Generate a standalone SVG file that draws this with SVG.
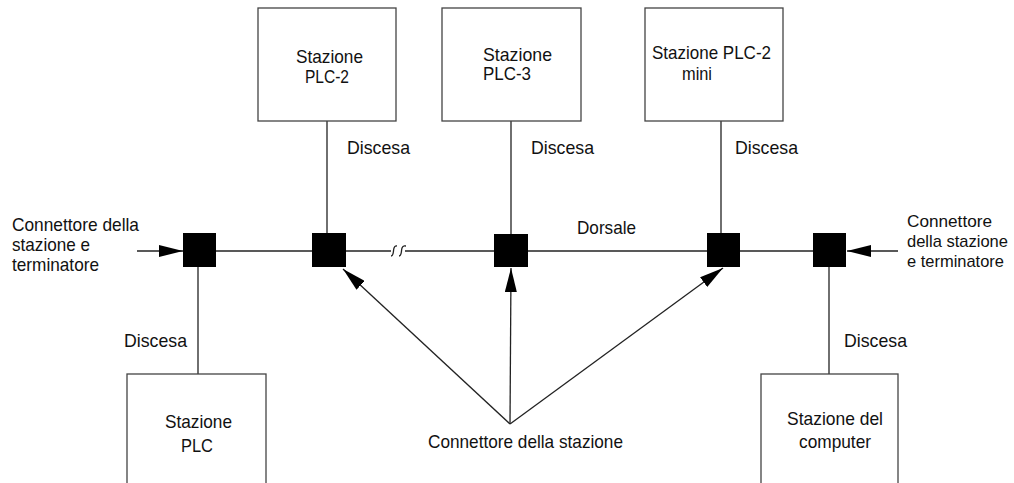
<svg xmlns="http://www.w3.org/2000/svg" width="1014" height="483" viewBox="0 0 1014 483">
<style>
  text { font-family: "Liberation Sans", Arial, sans-serif; font-size: 19px; fill: #111; }
  .r { font-size: 17px; }
  .box { fill: #fff; stroke: #444; stroke-width: 1.3; }
  .ln { stroke: #222; stroke-width: 1.3; fill: none; }
  .sq { fill: #000; }
</style>
<defs>
  <marker id="ah" viewBox="0 0 24 12" refX="24" refY="6" markerWidth="24" markerHeight="12" markerUnits="userSpaceOnUse" orient="auto">
    <path d="M0,0 L24,6 L0,12 Z" fill="#000"/>
  </marker>
</defs>
<rect width="1014" height="483" fill="#fff"/>

<g id="connectors">
  <line class="ln" x1="327" y1="121" x2="327" y2="234"/>
  <line class="ln" x1="511" y1="121" x2="511" y2="234"/>
  <line class="ln" x1="721" y1="121" x2="721" y2="234"/>
  <line class="ln" x1="198" y1="267" x2="198" y2="374"/>
  <line class="ln" x1="829" y1="267" x2="829" y2="374"/>
  <line class="ln" x1="216" y1="251" x2="312" y2="251"/>
  <line class="ln" x1="346" y1="251" x2="391" y2="251"/>
  <path class="ln" d="M391,256 C394,256 393,251 394,248 C395,245 396,246 397,246"/>
  <path class="ln" d="M399,256 C402,256 401,251 402,248 C403,245 404,246 406,246"/>
  <line class="ln" x1="405" y1="251" x2="494" y2="251"/>
  <line class="ln" x1="528" y1="251" x2="707" y2="251"/>
  <line class="ln" x1="740" y1="251" x2="813" y2="251"/>
  <line class="ln" x1="137" y1="251" x2="183" y2="251" marker-end="url(#ah)"/>
  <line class="ln" x1="898" y1="251" x2="847" y2="251" marker-end="url(#ah)"/>
  <line class="ln" x1="510" y1="424" x2="343" y2="269" marker-end="url(#ah)"/>
  <line class="ln" x1="510" y1="424" x2="511" y2="268" marker-end="url(#ah)"/>
  <line class="ln" x1="510" y1="424" x2="723" y2="268" marker-end="url(#ah)"/>
</g>

<g id="node-plc2">
  <rect class="box" x="258" y="8" width="138" height="113"/>
  <text x="296" y="63" textLength="67" lengthAdjust="spacingAndGlyphs">Stazione</text>
  <text x="305" y="83" textLength="44" lengthAdjust="spacingAndGlyphs">PLC-2</text>
</g>
<g id="node-plc3">
  <rect class="box" x="442" y="8" width="139" height="113"/>
  <text x="483" y="61" textLength="69" lengthAdjust="spacingAndGlyphs">Stazione</text>
  <text x="483" y="80" textLength="48" lengthAdjust="spacingAndGlyphs">PLC-3</text>
</g>
<g id="node-plc2mini">
  <rect class="box" x="645" y="8" width="138" height="113"/>
  <text x="652" y="59" textLength="119" lengthAdjust="spacingAndGlyphs">Stazione PLC-2</text>
  <text x="682" y="80" textLength="30" lengthAdjust="spacingAndGlyphs">mini</text>
</g>
<g id="node-plc">
  <rect class="box" x="127" y="374" width="139" height="120"/>
  <text x="165" y="428" textLength="67" lengthAdjust="spacingAndGlyphs">Stazione</text>
  <text x="181" y="452" textLength="32" lengthAdjust="spacingAndGlyphs">PLC</text>
</g>
<g id="node-computer">
  <rect class="box" x="761" y="374" width="137" height="120"/>
  <text x="787" y="425" textLength="96" lengthAdjust="spacingAndGlyphs">Stazione del</text>
  <text x="799" y="448" textLength="72" lengthAdjust="spacingAndGlyphs">computer</text>
</g>

<g id="connector-squares">
  <rect id="sq1" class="sq" x="183" y="233" width="33" height="34"/>
  <rect id="sq2" class="sq" x="312" y="233" width="34" height="34"/>
  <rect id="sq3" class="sq" x="494" y="234" width="34" height="33"/>
  <rect id="sq4" class="sq" x="707" y="233" width="33" height="34"/>
  <rect id="sq5" class="sq" x="813" y="233" width="33" height="34"/>
</g>

<g id="labels">
  <text x="347" y="154" textLength="63" lengthAdjust="spacingAndGlyphs">Discesa</text>
  <text x="531" y="154" textLength="63" lengthAdjust="spacingAndGlyphs">Discesa</text>
  <text x="735" y="154" textLength="63" lengthAdjust="spacingAndGlyphs">Discesa</text>
  <text x="124" y="347" textLength="63" lengthAdjust="spacingAndGlyphs">Discesa</text>
  <text x="844" y="347" textLength="63" lengthAdjust="spacingAndGlyphs">Discesa</text>
  <text x="577" y="234" textLength="59" lengthAdjust="spacingAndGlyphs">Dorsale</text>
  <text x="12" y="231" textLength="127" lengthAdjust="spacingAndGlyphs">Connettore della</text>
  <text x="12" y="251" textLength="78" lengthAdjust="spacingAndGlyphs">stazione e</text>
  <text x="12" y="271" textLength="87" lengthAdjust="spacingAndGlyphs">terminatore</text>
  <text class="r" x="907" y="227" textLength="85" lengthAdjust="spacingAndGlyphs">Connettore</text>
  <text class="r" x="907" y="247" textLength="101" lengthAdjust="spacingAndGlyphs">della stazione</text>
  <text class="r" x="907" y="267" textLength="97" lengthAdjust="spacingAndGlyphs">e terminatore</text>
  <text x="428" y="448" textLength="195" lengthAdjust="spacingAndGlyphs">Connettore della stazione</text>
</g>
</svg>
